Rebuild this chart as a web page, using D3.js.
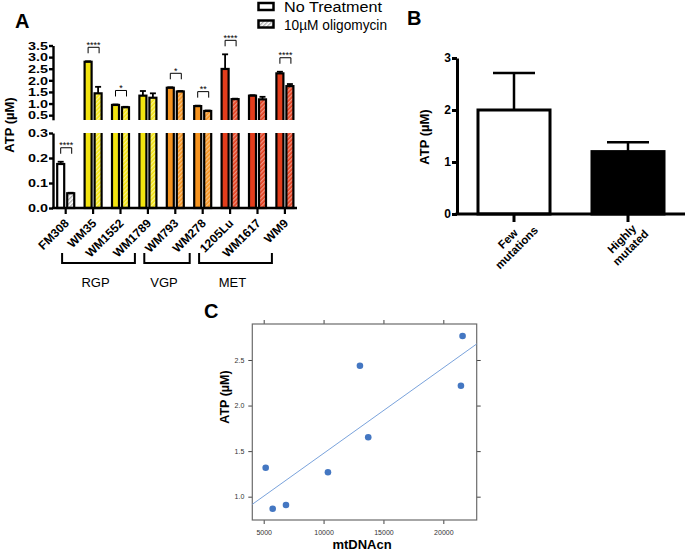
<!DOCTYPE html>
<html><head><meta charset="utf-8">
<script src="https://cdn.jsdelivr.net/npm/d3@7"></script>
<style>body{margin:0;background:#fff} text{font-family:Arial,"Liberation Sans",Helvetica,sans-serif}</style>
</head><body><svg id="c" width="685" height="552"></svg>
<script>
// ---------- Panel A data ----------
const cellLines = ["FM308","WM35","WM1552","WM1789","WM793","WM278","1205Lu","WM1617","WM9"];
const stage = ["Control","RGP","RGP","RGP","VGP","VGP","MET","MET","MET"];
const noTreatment = [0.176, 2.80, 0.94, 1.34, 1.68, 0.89, 2.49, 1.34, 2.30];
const noTreatmentErr = [0.009, 0.02, 0.02, 0.20, 0.02, 0.02, 0.63, 0.02, 0.07];
const oligomycin = [0.059, 1.44, 0.84, 1.25, 1.52, 0.68, 1.19, 1.18, 1.75];
const oligomycinErr = [0.002, 0.28, 0.02, 0.19, 0.02, 0.02, 0.02, 0.11, 0.09];
const significance = ["****","****","*","","*","**","****","","****"];
const stageGroups = ["RGP","VGP","MET"];
const topTicks = [0.5,1.0,1.5,2.0,2.5,3.0,3.5];
const bottomTicks = [0.0,0.1,0.2,0.3];
const legendLabels = ["No Treatment","10µM oligomycin"];
// ---------- Panel B data ----------
const mutationGroups = [["Few","mutations"],["Highly","mutated"]];
const mutationMeans = [2.0, 1.2];
const mutationErr = [0.71, 0.18];
const bTicks = [0,1,2,3];
// ---------- Panel C data ----------
const mtDNAcn = [5167,5751,6861,10366,13036,13729,21470,21607];
const atp = [1.318,0.868,0.909,1.268,2.437,1.652,2.218,2.764];
const fitX = [4049, 22787];
const fitY = [0.916, 2.676];
const cXTicks = [5000,10000,15000,20000];
const cYTicks = [1.0,1.5,2.0,2.5];

const stageColor = {Control:"#ffffff", RGP:"#f2e30f", VGP:"#f6931e", MET:"#e23d1c"};

const svg = d3.select("#c");
const defs = svg.append("defs");
function hatch(id, bg, line){
  const p = defs.append("pattern").attr("id",id).attr("patternUnits","userSpaceOnUse")
    .attr("width",3).attr("height",3).attr("patternTransform","rotate(45)");
  p.append("rect").attr("width",3).attr("height",3).attr("fill",bg);
  p.append("line").attr("x1",0.75).attr("y1",0).attr("x2",0.75).attr("y2",3)
    .attr("stroke",line).attr("stroke-width",1.1);
}
hatch("h-Control","#ffffff","#9a9a9a");
hatch("h-RGP",stageColor.RGP,"rgba(255,255,255,0.65)");
hatch("h-VGP",stageColor.VGP,"rgba(255,255,255,0.55)");
hatch("h-MET",stageColor.MET,"rgba(255,255,255,0.55)");

// ================= PANEL A =================
const x = d3.scaleBand().domain(cellLines).range([52, 298.6]);
const x1 = d3.scaleBand().domain(["nt","ol"]).range([-9, 9]).paddingInner(0.2);
const yTop = d3.scaleLinear().domain([0.3, 3.5]).range([119.8, 45.5]);
const yBot = d3.scaleLinear().domain([0, 0.3]).range([208, 133]);
const yv = v => v > 0.3 ? yTop(v) : yBot(v);

defs.append("clipPath").attr("id","clipTop").append("rect").attr("x",0).attr("y",0).attr("width",685).attr("height",120);
defs.append("clipPath").attr("id","clipBot").append("rect").attr("x",0).attr("y",133).attr("width",685).attr("height",120);

svg.append("text").attr("x",15).attr("y",28).attr("font-size",20).attr("font-weight","bold").text("A");

const bars = [];
cellLines.forEach((c,i)=>{
  bars.push({c, i, key:"nt", v:noTreatment[i], e:noTreatmentErr[i], fill:stageColor[stage[i]]});
  bars.push({c, i, key:"ol", v:oligomycin[i], e:oligomycinErr[i], fill:`url(#h-${stage[i]})`});
});
const cx = c => x(c) + x.bandwidth()/2;

["clipTop","clipBot"].forEach(clip=>{
  const g = svg.append("g").attr("clip-path",`url(#${clip})`);
  const data = clip==="clipTop" ? bars.filter(d=>d.v>0.3) : bars;
  g.selectAll("rect").data(data).join("rect")
    .attr("x", d => cx(d.c) + x1(d.key) + 0.5)
    .attr("width", x1.bandwidth() - 1)
    .attr("y", d => clip==="clipTop" ? yTop(d.v) : (d.v>0.3 ? 125 : yBot(d.v)))
    .attr("height", d => clip==="clipTop" ? Math.max(0, 132 - yTop(d.v)) : 208 - (d.v>0.3 ? 125 : yBot(d.v)))
    .attr("fill", d => d.fill).attr("stroke","#000").attr("stroke-width",2.2);
});
// error bars
const eg = svg.append("g").attr("stroke","#000").attr("stroke-width",1.8);
bars.forEach(d=>{
  const bx = cx(d.c) + x1(d.key) + x1.bandwidth()/2;
  const y0 = yv(d.v), y1 = yv(d.v + d.e);
  eg.append("line").attr("x1",bx).attr("x2",bx).attr("y1",y0).attr("y2",y1);
  eg.append("line").attr("x1",bx-3).attr("x2",bx+3).attr("y1",y1).attr("y2",y1);
});
// significance brackets
cellLines.forEach((c,i)=>{
  if(!significance[i]) return;
  const top = Math.min(yv(noTreatment[i]+noTreatmentErr[i]), yv(oligomycin[i]+oligomycinErr[i])) - 8 - 6;
  const m = cx(c) + 0.5;
  svg.append("path").attr("d",`M${m-5.5},${top+6}V${top}H${m+5.5}V${top+6}`)
    .attr("fill","none").attr("stroke","#000").attr("stroke-width",1);
  svg.append("text").attr("x",m).attr("y",top+0.5).attr("text-anchor","middle")
    .attr("font-size",9).text(significance[i]);
});
// axes
const axA = svg.append("g").attr("transform","translate(53,0)");
const gTopAx = axA.append("g").call(d3.axisLeft(yTop).tickValues(topTicks).tickFormat(d3.format(".1f")).tickSize(4).tickSizeOuter(0).tickPadding(1));
const gBotAx = axA.append("g").call(d3.axisLeft(yBot).tickValues(bottomTicks).tickFormat(d3.format(".1f")).tickSize(4).tickSizeOuter(0).tickPadding(1));
[gTopAx,gBotAx].forEach(g=>{
  g.selectAll("path,line").attr("stroke","#000").attr("stroke-width",2.4);
  g.selectAll("text").attr("font-size",11.5).attr("font-weight","bold").attr("fill","#000")
    .attr("textLength",20).attr("lengthAdjust","spacingAndGlyphs")
    .attr("font-family","Arial,'Liberation Sans',sans-serif");
});
svg.append("line").attr("x1",52).attr("x2",297).attr("y1",208).attr("y2",208).attr("stroke","#000").attr("stroke-width",2.4);
svg.append("g").selectAll("line").data(cellLines).join("line")
  .attr("x1",cx).attr("x2",cx).attr("y1",208).attr("y2",214).attr("stroke","#000").attr("stroke-width",2.2);
svg.append("g").selectAll("text").data(cellLines).join("text")
  .attr("transform", c => `translate(${cx(c)+4},224) rotate(-45)`)
  .attr("text-anchor","end").attr("font-size",12).attr("font-weight","bold").text(c=>c);
svg.append("text").attr("transform","translate(14,125) rotate(-90)").attr("text-anchor","middle")
  .attr("font-size",13).attr("font-weight","bold").text("ATP (µM)");
// stage group brackets
stageGroups.forEach(s=>{
  const idx = stage.map((d,i)=>d===s?i:-1).filter(i=>i>=0);
  const xa = cx(cellLines[idx[0]]) - 31, xb2 = cx(cellLines[idx[idx.length-1]]) - 13;
  svg.append("path").attr("d",`M${xa},253V263H${xb2}V253`).attr("fill","none").attr("stroke","#000").attr("stroke-width",2);
  svg.append("text").attr("x",(xa+xb2)/2 - 3).attr("y",287).attr("text-anchor","middle").attr("font-size",13).text(s);
});
// legend
const leg = svg.append("g");
leg.append("rect").attr("x",258.5).attr("y",3).attr("width",15).attr("height",7).attr("fill","#fff").attr("stroke","#000").attr("stroke-width",2.5);
leg.append("rect").attr("x",258.5).attr("y",20.5).attr("width",15).attr("height",7).attr("fill","url(#h-Control)").attr("stroke","#000").attr("stroke-width",2.5);
leg.append("text").attr("x",284).attr("y",12).attr("font-size",14).attr("textLength",98).attr("lengthAdjust","spacingAndGlyphs").text(legendLabels[0]);
leg.append("text").attr("x",284).attr("y",29.5).attr("font-size",14).attr("textLength",103).attr("lengthAdjust","spacingAndGlyphs").text(legendLabels[1]);

// ================= PANEL B =================
svg.append("text").attr("x",407).attr("y",25).attr("font-size",20).attr("font-weight","bold").text("B");
const bKeys = mutationGroups.map(d=>d.join(" "));
const xbS = d3.scaleBand().domain(bKeys).range([457,685]).paddingInner(0.342).paddingOuter(0.171);
const yB = d3.scaleLinear().domain([0,3]).range([214,58]);
const bFill = ["#ffffff","#000000"];
bKeys.forEach((k,i)=>{
  const c = xbS(k) + xbS.bandwidth()/2;
  svg.append("line").attr("x1",c).attr("x2",c).attr("y1",yB(mutationMeans[i])).attr("y2",yB(mutationMeans[i]+mutationErr[i])).attr("stroke","#000").attr("stroke-width",2.5);
  svg.append("line").attr("x1",c-21).attr("x2",c+21).attr("y1",yB(mutationMeans[i]+mutationErr[i])).attr("y2",yB(mutationMeans[i]+mutationErr[i])).attr("stroke","#000").attr("stroke-width",2.5);
  svg.append("rect").attr("x",xbS(k)+1.5).attr("width",xbS.bandwidth()-3).attr("y",yB(mutationMeans[i])).attr("height",yB(0)-yB(mutationMeans[i]))
    .attr("fill",bFill[i]).attr("stroke","#000").attr("stroke-width",3);
});
const gB = svg.append("g").attr("transform","translate(457,0)")
  .call(d3.axisLeft(yB).tickValues(bTicks).tickFormat(d3.format("d")).tickSize(5).tickSizeOuter(0).tickPadding(1));
gB.selectAll("path,line").attr("stroke","#000").attr("stroke-width",3);
gB.selectAll("text").attr("font-size",12).attr("font-weight","bold").attr("fill","#000").attr("font-family","Arial,'Liberation Sans',sans-serif");
svg.append("line").attr("x1",455.5).attr("x2",685).attr("y1",214).attr("y2",214).attr("stroke","#000").attr("stroke-width",3);
bKeys.forEach((k,i)=>{
  const c = xbS(k) + xbS.bandwidth()/2;
  svg.append("line").attr("x1",c).attr("x2",c).attr("y1",214).attr("y2",222).attr("stroke","#000").attr("stroke-width",3);
  const t = svg.append("text").attr("transform",`translate(${c-2},243) rotate(-45)`).attr("text-anchor","middle")
    .attr("font-size",11.5).attr("font-weight","bold");
  t.append("tspan").attr("x",0).attr("y",-2).text(mutationGroups[i][0]);
  t.append("tspan").attr("x",0).attr("y",10.5).text(mutationGroups[i][1]);
});
svg.append("text").attr("transform","translate(429,137) rotate(-90)").attr("text-anchor","middle")
  .attr("font-size",13).attr("font-weight","bold").text("ATP (µM)");

// ================= PANEL C =================
svg.append("text").attr("x",204).attr("y",318).attr("font-size",20).attr("font-weight","bold").text("C");
const xc = d3.scaleLinear().domain([4049,22787]).range([252.3,476.7]);
const yc = d3.scaleLinear().domain([0.744,2.895]).range([520,324]);
const tickCol = "#333";
function styleC(g){
  g.select(".domain").remove();
  g.selectAll("line").attr("stroke","#444").attr("stroke-width",1);
  g.selectAll("text").attr("font-size",7).attr("fill",tickCol).attr("font-family","Arial,'Liberation Sans',sans-serif");
}
styleC(svg.append("g").attr("transform","translate(0,520)").call(d3.axisBottom(xc).tickValues(cXTicks).tickFormat(d3.format("d")).tickSize(4).tickPadding(6)));
styleC(svg.append("g").attr("transform","translate(0,324)").call(d3.axisTop(xc).tickValues(cXTicks).tickFormat("").tickSize(4)));
styleC(svg.append("g").attr("transform","translate(252.3,0)").call(d3.axisLeft(yc).tickValues(cYTicks).tickFormat(d3.format(".1f")).tickSize(4).tickPadding(4)));
styleC(svg.append("g").attr("transform","translate(476.7,0)").call(d3.axisRight(yc).tickValues(cYTicks).tickFormat("").tickSize(4)));
svg.append("rect").attr("x",252.3).attr("y",324).attr("width",476.7-252.3).attr("height",520-324)
  .attr("fill","none").attr("stroke","#6b6b6b").attr("stroke-width",1.2);
svg.append("line").attr("x1",xc(fitX[0])).attr("y1",yc(fitY[0])).attr("x2",xc(fitX[1])).attr("y2",yc(fitY[1]))
  .attr("stroke","#7aa3dc").attr("stroke-width",1);
svg.append("g").selectAll("circle").data(mtDNAcn).join("circle")
  .attr("cx",d=>xc(d)).attr("cy",(d,i)=>yc(atp[i])).attr("r",3.3).attr("fill","#4477c2");
svg.append("text").attr("x",362).attr("y",549).attr("text-anchor","middle").attr("font-size",13).attr("font-weight","bold").text("mtDNAcn");
svg.append("text").attr("transform","translate(229,397) rotate(-90)").attr("text-anchor","middle")
  .attr("font-size",12.5).attr("font-weight","bold").text("ATP (µM)");
</script></body></html>
